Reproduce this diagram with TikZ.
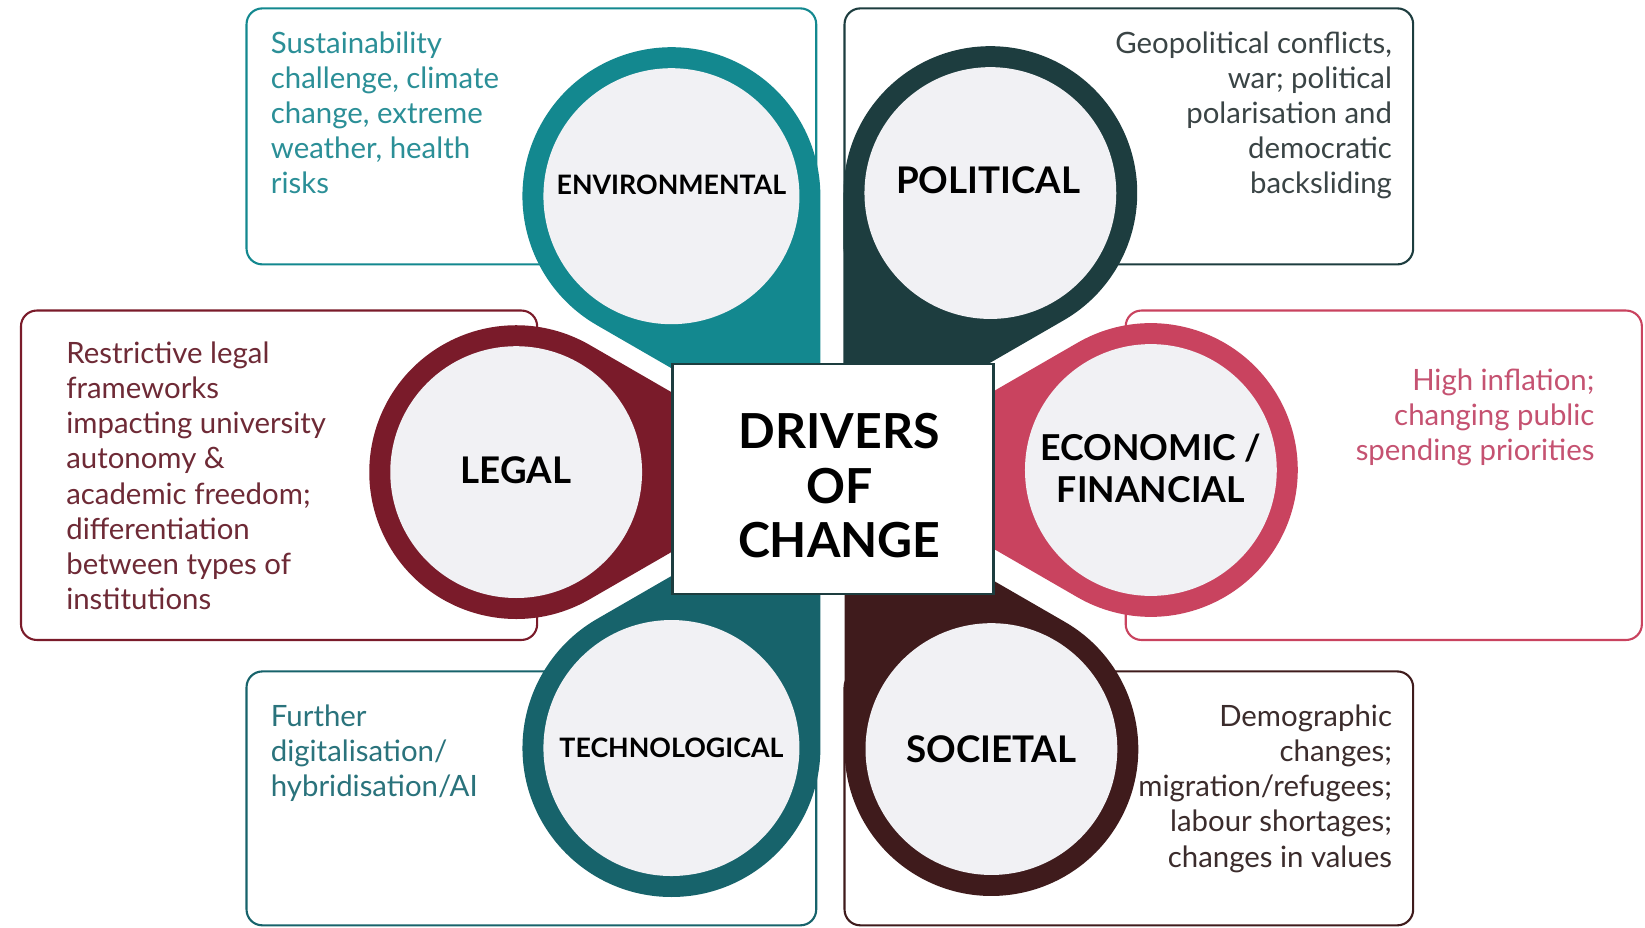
\documentclass[tikz,border=0pt]{standalone}
\usepackage{fontspec}
\setmainfont{Lato}
\usetikzlibrary{calc}
\definecolor{envcol}{HTML}{13888F}
\definecolor{polcol}{HTML}{1D3D3F}
\definecolor{legcol}{HTML}{7A1B2A}
\definecolor{ecocol}{HTML}{C9435F}
\definecolor{teccol}{HTML}{17636B}
\definecolor{soccol}{HTML}{3F1B1C}
\definecolor{ringgray}{HTML}{F1F1F4}
\definecolor{envtext}{HTML}{2B8F97}
\definecolor{poltext}{HTML}{3A4445}
\definecolor{legtext}{HTML}{6E2A36}
\definecolor{ecotext}{HTML}{C55271}
\definecolor{tectext}{HTML}{2A737C}
\definecolor{soctext}{HTML}{3B2C2C}
\tikzstyle{infobox} = [rounded corners=15pt, line width=2pt, fill=white]
\tikzstyle{desc} = [inner sep=0pt, font=\fontsize{28}{33.4}\selectfont]
\tikzstyle{tag} = [inner sep=0pt, align=center, text=black]
\tikzstyle{hub} = [fill=white, draw=polcol, line width=2pt]
% centre, outer radius, tip angle, colour
\newcommand{\drop}[4]{%
  \fill[#4] ($(#1)+({#3}:{2*#2})$) -- ($(#1)+({#3+60}:{#2})$)
    arc[start angle={#3+60}, delta angle=240, radius={#2}] -- cycle;
  \fill[ringgray] (#1) circle[radius={#2-20}];
}

\begin{document}
\begin{tikzpicture}[x=1pt, y=-1pt]
  \useasboundingbox (0,0) rectangle (1568,884);

  % Boxes
  \draw[infobox, draw=envcol] (235,8) rectangle (778,252);
  \draw[infobox, draw=polcol] (805,8) rectangle (1347,252);
  \draw[infobox, draw=legcol] (20,296) rectangle (512,610);
  \draw[infobox, draw=ecocol] (1073,296) rectangle (1565,610);
  \draw[infobox, draw=teccol] (235,640) rectangle (778,882);
  \draw[infobox, draw=soccol] (805,640) rectangle (1347,882);

  % Drops
  \coordinate (env) at (640,187);
  \coordinate (pol) at (944,184);
  \coordinate (leg) at (492,450);
  \coordinate (eco) at (1097,448);
  \coordinate (tec) at (640,713);
  \coordinate (soc) at (945,714);
  \drop{env}{142}{60}{envcol}
  \drop{pol}{140}{120}{polcol}
  \drop{leg}{140}{0}{legcol}
  \drop{eco}{140}{180}{ecocol}
  \drop{tec}{142}{-60}{teccol}
  \drop{soc}{140}{-120}{soccol}

  \draw[hub] (641,347) rectangle (947,566);
  \node[tag, font=\fontsize{46}{52}\selectfont\bfseries] (title) at (800,463) {DRIVERS\\OF\\CHANGE};

  % Labels
  \node[tag, font=\fontsize{25.5}{30}\selectfont\bfseries] (envlabel) at ($(env)+(0,-11)$) {ENVIRONMENTAL};
  \node[tag, font=\fontsize{35}{40}\selectfont\bfseries] (pollabel) at ($(pol)+(-2,-12)$) {POLITICAL};
  \node[tag, font=\fontsize{35}{40}\selectfont\bfseries] (leglabel) at ($(leg)+(0,-2)$) {LEGAL};
  \node[tag, font=\fontsize{34}{40}\selectfont\bfseries] (ecolabel) at ($(eco)+(0,-2)$) {ECONOMIC /\\FINANCIAL};
  \node[tag, font=\fontsize{25.5}{30}\selectfont\bfseries] (teclabel) at (tec) {TECHNOLOGICAL};
  \node[tag, font=\fontsize{35}{40}\selectfont\bfseries] (soclabel) at (soc) {SOCIETAL};

  \node[desc, text=envtext, anchor=north west, align=left] (envdesc) at (258,30)
    {Sustainability\\challenge, climate\\change, extreme\\weather, health\\risks};
  \node[desc, text=poltext, anchor=north east, align=right] (poldesc) at (1327,30)
    {Geopolitical conflicts,\\war; political\\polarisation and\\democratic\\backsliding};
  \node[desc, text=legtext, anchor=north west, align=left] (legdesc) at (63,326)
    {Restrictive legal\\frameworks\\impacting university\\autonomy \&\\academic freedom;\\differentiation\\between types of\\institutions};
  \node[desc, text=ecotext, anchor=north east, align=right] (ecodesc) at (1520,351)
    {High inflation;\\changing public\\spending priorities};
  \node[desc, text=tectext, anchor=north west, align=left] (tecdesc) at (258,672)
    {Further\\digitalisation/\\hybridisation/AI};
  \node[desc, text=soctext, anchor=north east, align=right] (socdesc) at (1327,672)
    {Demographic\\changes;\\migration/refugees;\\labour shortages;\\changes in values};
\end{tikzpicture}
\end{document}
